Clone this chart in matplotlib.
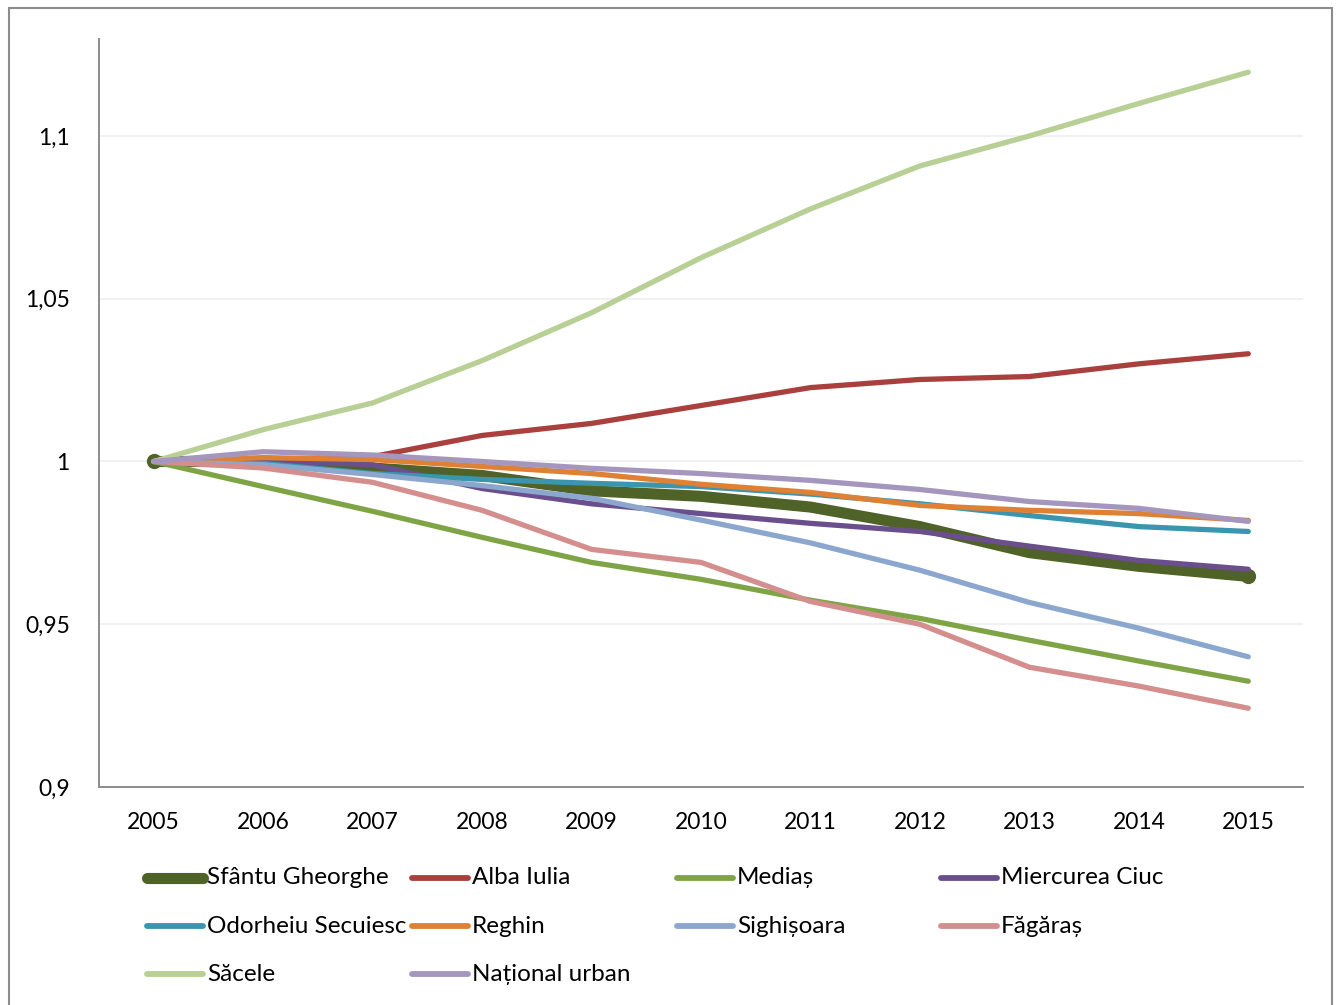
import matplotlib
matplotlib.use("Agg")
import matplotlib.pyplot as plt
from matplotlib.lines import Line2D
from matplotlib.patches import Rectangle

years = ["2005", "2006", "2007", "2008", "2009", "2010", "2011", "2012", "2013", "2014", "2015"]

series_names = ["Sfântu Gheorghe", "Alba Iulia", "Mediaș", "Miercurea Ciuc",
                "Odorheiu Secuiesc", "Reghin", "Sighișoara", "Făgăraș",
                "Săcele", "Național urban"]

sfantu_gheorghe = [1.0, 1.0, 0.998, 0.9957, 0.991, 0.9893, 0.986, 0.980, 0.972, 0.9678, 0.9647]
alba_iulia = [1.0, 1.0006, 1.0015, 1.008, 1.0117, 1.0172, 1.0227, 1.0252, 1.0261, 1.030, 1.0331]
medias = [1.0, 0.9923, 0.9847, 0.9767, 0.969, 0.9638, 0.9574, 0.9518, 0.9451, 0.9387, 0.9325]
miercurea_ciuc = [1.0, 1.0003, 0.999, 0.9917, 0.987, 0.984, 0.981, 0.9785, 0.974, 0.9696, 0.9669]
odorheiu_secuiesc = [1.0, 0.9994, 0.9963, 0.9945, 0.9933, 0.9923, 0.990, 0.987, 0.9834, 0.980, 0.9785]
reghin = [1.0, 1.0012, 1.0006, 0.9985, 0.9963, 0.993, 0.9905, 0.9865, 0.985, 0.984, 0.9819]
sighisoara = [1.0, 0.999, 0.996, 0.9926, 0.9887, 0.982, 0.975, 0.9666, 0.9567, 0.9488, 0.940]
fagaras = [1.0, 0.998, 0.9936, 0.985, 0.973, 0.969, 0.957, 0.950, 0.9368, 0.931, 0.9242]
sacele = [1.0, 1.0098, 1.018, 1.031, 1.0457, 1.0626, 1.0776, 1.0908, 1.100, 1.110, 1.1196]
national_urban = [1.0, 1.003, 1.002, 1.0, 0.9979, 0.9963, 0.9942, 0.9914, 0.9877, 0.9856, 0.9816]

y_ticks = [0.9, 0.95, 1.0, 1.05, 1.1]
y_tick_labels = ["0,9", "0,95", "1", "1,05", "1,1"]

values = [sfantu_gheorghe, alba_iulia, medias, miercurea_ciuc, odorheiu_secuiesc,
          reghin, sighisoara, fagaras, sacele, national_urban]
colors = ["#4F6228", "#A9403D", "#7FA446", "#6A4F8C", "#3A95AF",
          "#DF8134", "#8CA7CE", "#D38E8D", "#B8CF95", "#A596BE"]
widths = [8.0, 3.8, 3.8, 3.8, 3.8, 3.8, 3.8, 3.8, 3.8, 3.8]

plt.rcParams['font.family'] = ['Lato', 'DejaVu Sans']

W, H = 1339, 1005
fig = plt.figure(figsize=(W / 100, H / 100), dpi=100)
ax = fig.add_axes([99 / W, 1 - 787 / H, (1303 - 99) / W, (787 - 39) / H])

x = list(range(len(years)))
for i, (name, vals) in enumerate(zip(series_names, values)):
    if i == 0:
        ax.plot(x, vals, color=colors[i], lw=widths[i], solid_capstyle='round',
                solid_joinstyle='round', zorder=2, marker='o', markevery=[0, len(x) - 1],
                markersize=11, markeredgewidth=0)
    else:
        ax.plot(x, vals, color=colors[i], lw=widths[i], solid_capstyle='round',
                solid_joinstyle='round', zorder=3)

ax.set_xlim(-0.5, len(years) - 0.5)
ax.set_ylim(0.9, 1.1298)
ax.set_xticks(x)
ax.set_xticklabels(years)
ax.set_yticks(y_ticks)
ax.set_yticklabels(y_tick_labels)
ax.tick_params(axis='both', length=0, labelsize=16.5, colors='black')
ax.tick_params(axis='y', pad=21)
ax.tick_params(axis='x', pad=18)
ax.grid(axis='y', color='#EFEFEF', lw=1.2, zorder=0)
ax.set_axisbelow(True)
for s in ['top', 'right']:
    ax.spines[s].set_visible(False)
for s in ['left', 'bottom']:
    ax.spines[s].set_color('#8C8C8C')
    ax.spines[s].set_linewidth(1.4)

# outer chart border
fig.add_artist(Rectangle((9 / W, -0.02), (1332 - 9) / W, 1 - 8 / H + 0.02,
                         transform=fig.transFigure, fill=False,
                         edgecolor='#8C8C8C', lw=1.5))

# legend (fixed-width columns like the original)
col_x = [147, 412, 677, 941]
row_y = [878, 926, 974]
for i, name in enumerate(series_names):
    r, c = divmod(i, 4)
    x0 = col_x[c]
    yy = 1 - row_y[r] / H
    lw = 8.0 if i == 0 else 4.2
    fig.add_artist(Line2D([x0 / W, (x0 + 56) / W], [yy, yy], transform=fig.transFigure,
                          color=colors[i], lw=lw, solid_capstyle='round'))
    fig.text((x0 + 60) / W, yy, name, fontsize=17.5, va='center', ha='left', color='black')

fig.savefig("out.png", dpi=100)
